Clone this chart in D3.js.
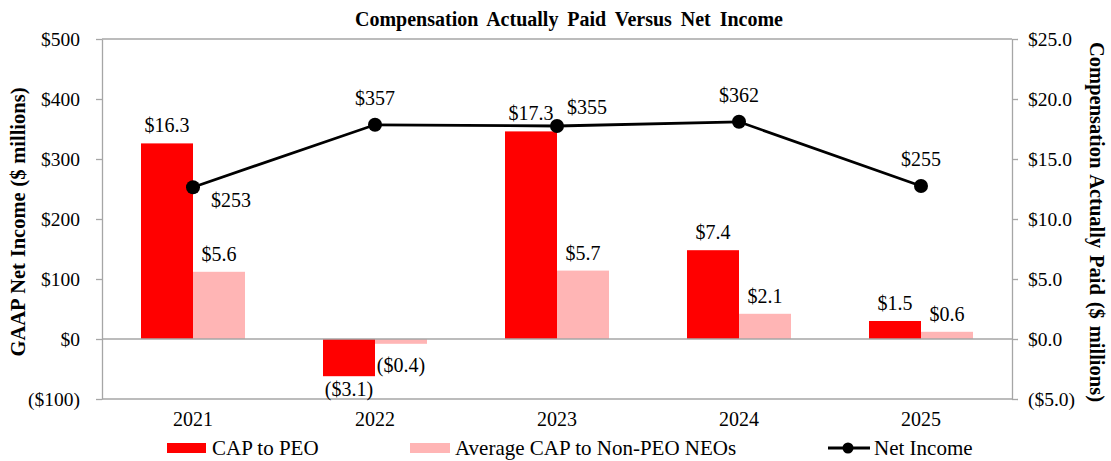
<!DOCTYPE html>
<html>
<head>
<meta charset="utf-8">
<script src="https://cdn.jsdelivr.net/npm/d3@7"></script>
<style>
  body { margin: 0; background: #fff; }
  svg { display: block; font-family: "Liberation Serif", "Times New Roman", serif; }
</style>
</head>
<body>
<svg id="chart" width="1111" height="461"></svg>
<script>
const years = ["2021", "2022", "2023", "2024", "2025"];
const capPEO = [16.3, -3.1, 17.3, 7.4, 1.5];
const capNonPEO = [5.6, -0.4, 5.7, 2.1, 0.6];
const netIncome = [253, 357, 355, 362, 255];
const leftTicks = [-100, 0, 100, 200, 300, 400, 500];
const rightTicks = [-5, 0, 5, 10, 15, 20, 25];
const netLabelPlacement = ["belowRight", "above", "aboveRight", "above", "above"];

const svg = d3.select("#chart");
const m = { left: 102, right: 1012, top: 39, bottom: 399 };
const RED = "#FF0000", PINK = "#FFB5B5", AXIS = "#A6A6A6";
const fs = 20;

const x = d3.scaleBand().domain(years).range([m.left, m.right]).paddingInner(0).paddingOuter(0);
const yL = d3.scaleLinear().domain([-100, 500]).range([m.bottom, m.top]);
const yR = d3.scaleLinear().domain([-5, 25]).range([m.bottom, m.top]);
const barW = 52;
const money0 = v => v < 0 ? "($" + Math.abs(v) + ")" : "$" + v;
const money1 = v => v < 0 ? "($" + Math.abs(v).toFixed(1) + ")" : "$" + v.toFixed(1);

// frame lines
svg.append("line").attr("x1", m.left).attr("x2", m.right).attr("y1", m.top).attr("y2", m.top).attr("stroke", AXIS).attr("stroke-width", 1.3);
svg.append("line").attr("x1", m.left).attr("x2", m.right).attr("y1", m.bottom).attr("y2", m.bottom).attr("stroke", AXIS).attr("stroke-width", 1.3);

// left axis
const gL = svg.append("g").attr("transform", `translate(${m.left},0)`)
  .call(d3.axisLeft(yL).tickValues(leftTicks).tickSize(6).tickPadding(16).tickFormat(money0).tickSizeOuter(0));
// right axis
const gR = svg.append("g").attr("transform", `translate(${m.right},0)`)
  .call(d3.axisRight(yR).tickValues(rightTicks).tickSize(6).tickPadding(10).tickFormat(money1).tickSizeOuter(0));
[gL, gR].forEach(g => {
  g.select(".domain").attr("stroke", AXIS).attr("stroke-width", 1.3);
  g.selectAll(".tick line").attr("stroke", AXIS).attr("stroke-width", 1.3);
  g.selectAll(".tick text").attr("font-size", 19.5).attr("fill", "#000").attr("font-family", "Liberation Serif");
});

// category labels
const gX = svg.append("g").attr("transform", `translate(0,${m.bottom})`)
  .call(d3.axisBottom(x).tickSize(0).tickPadding(13));
gX.select(".domain").remove();
gX.selectAll(".tick text").attr("font-size", 20).attr("fill", "#000").attr("font-family", "Liberation Serif");

// bars
const series = [
  { vals: capPEO, color: RED, off: -barW, negGap: 13 },
  { vals: capNonPEO, color: PINK, off: 0, negGap: 21 }
];
series.forEach(s => {
  svg.append("g").selectAll("rect").data(s.vals).enter().append("rect")
    .attr("x", (d, i) => x(years[i]) + x.bandwidth() / 2 + s.off)
    .attr("width", barW)
    .attr("y", d => Math.min(yR(d), yR(0)))
    .attr("height", d => Math.abs(yR(d) - yR(0)))
    .attr("fill", s.color);
  svg.append("g").selectAll("text").data(s.vals).enter().append("text")
    .attr("x", (d, i) => x(years[i]) + x.bandwidth() / 2 + s.off + barW / 2)
    .attr("y", d => d >= 0 ? yR(d) - 18 : yR(d) + s.negGap)
    .attr("dy", "0.35em")
    .attr("text-anchor", "middle")
    .attr("font-size", fs)
    .text(d => money1(d));
});
// zero line over bars
svg.append("line").attr("x1", m.left).attr("x2", m.right).attr("y1", yL(0)).attr("y2", yL(0)).attr("stroke", AXIS).attr("stroke-width", 1.3);

// net income line
const cx = i => x(years[i]) + x.bandwidth() / 2;
const line = d3.line().x((d, i) => cx(i)).y(d => yL(d));
svg.append("path").datum(netIncome).attr("d", line).attr("fill", "none").attr("stroke", "#000").attr("stroke-width", 2.8);
svg.append("g").selectAll("circle").data(netIncome).enter().append("circle")
  .attr("cx", (d, i) => cx(i)).attr("cy", d => yL(d)).attr("r", 7).attr("fill", "#000");
svg.append("g").selectAll("text").data(netIncome).enter().append("text")
  .attr("x", (d, i) => {
    const p = netLabelPlacement[i];
    if (p === "above") return cx(i);
    if (p === "aboveRight") return cx(i) + 10;
    return cx(i) + 18;
  })
  .attr("y", (d, i) => {
    const p = netLabelPlacement[i];
    if (p === "above") return yL(d) - 27;
    if (p === "aboveRight") return yL(d) - 19;
    return yL(d) + 13;
  })
  .attr("dy", "0.35em")
  .attr("text-anchor", (d, i) => netLabelPlacement[i] === "above" ? "middle" : "start")
  .attr("font-size", fs)
  .text(d => money0(d));

// title
const title = svg.append("text").attr("x", 569).attr("y", 19).attr("dy", "0.35em")
  .attr("text-anchor", "middle").attr("font-weight", "bold").attr("font-size", 20)
  .text("Compensation Actually Paid Versus Net Income");
function fitWords(t, target) {
  const words = t.text().split(" ").length - 1;
  const len = t.node().getComputedTextLength();
  if (words > 0 && len < target) t.attr("word-spacing", (target - len) / words);
}
fitWords(title, 428);

// axis titles
const lt = svg.append("text").attr("transform", "translate(18,222) rotate(-90)").attr("dy", "0.35em")
  .attr("text-anchor", "middle").attr("font-weight", "bold").attr("font-size", 20.5)
  .text("GAAP Net Income ($ millions)");
fitWords(lt, 269);
const rt = svg.append("text").attr("transform", "translate(1097,222) rotate(90)").attr("dy", "0.35em")
  .attr("text-anchor", "middle").attr("font-weight", "bold").attr("font-size", 20.5)
  .text("Compensation Actually Paid ($ millions)");
fitWords(rt, 360);

// legend
const lg = svg.append("g");
lg.append("rect").attr("x", 167).attr("y", 443).attr("width", 39).attr("height", 10).attr("fill", RED);
lg.append("text").attr("x", 212).attr("y", 448).attr("dy", "0.35em").attr("font-size", 21).text("CAP to PEO");
lg.append("rect").attr("x", 410).attr("y", 443).attr("width", 40).attr("height", 10).attr("fill", PINK);
lg.append("text").attr("x", 455).attr("y", 448).attr("dy", "0.35em").attr("font-size", 21).text("Average CAP to Non-PEO NEOs");
lg.append("line").attr("x1", 828).attr("x2", 870).attr("y1", 448).attr("y2", 448).attr("stroke", "#000").attr("stroke-width", 2.8);
lg.append("circle").attr("cx", 848).attr("cy", 448).attr("r", 5.5).attr("fill", "#000");
lg.append("text").attr("x", 874).attr("y", 448).attr("dy", "0.35em").attr("font-size", 21).text("Net Income");
</script>
</body>
</html>
